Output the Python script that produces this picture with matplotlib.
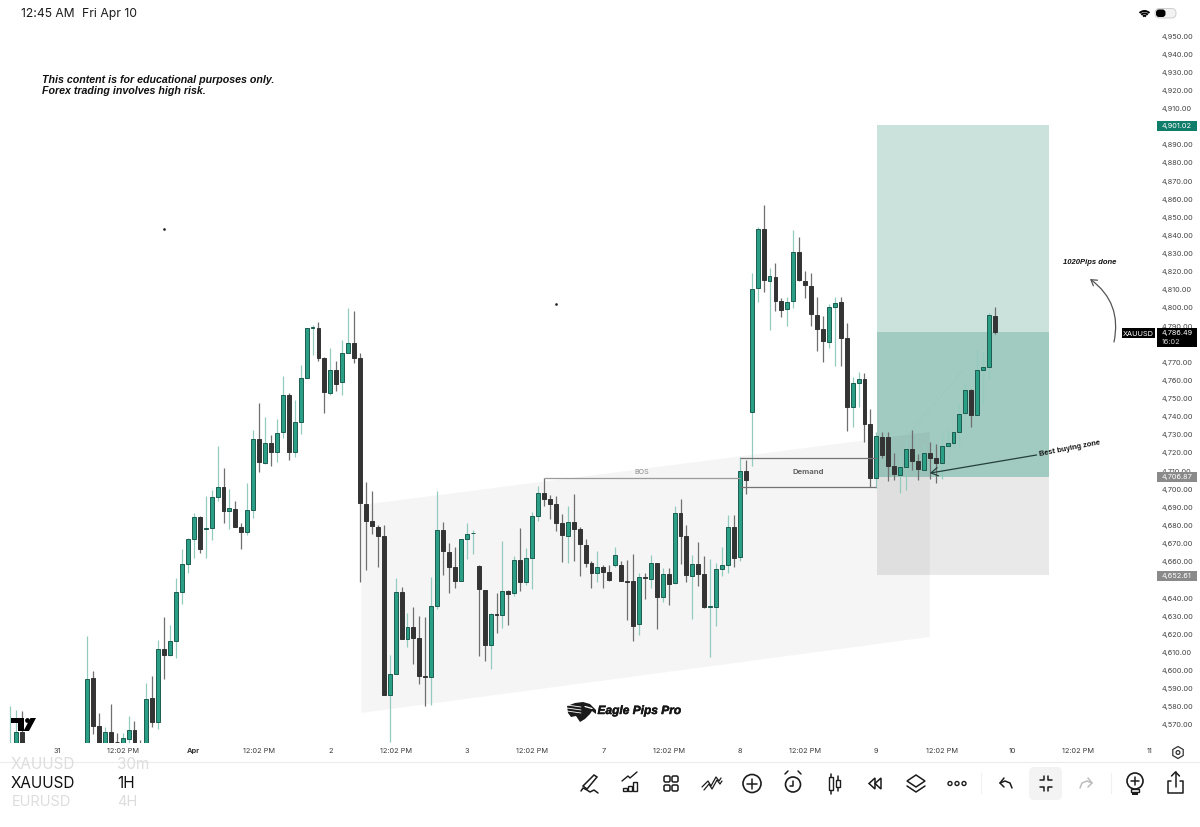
"""XAUUSD 1H candle chart, tablet screenshot style."""
import matplotlib

matplotlib.use("Agg")
import matplotlib.patheffects as pe
import matplotlib.pyplot as plt
import numpy as np
from matplotlib.patches import Arc, Circle, FancyArrowPatch, FancyBboxPatch, Polygon, Rectangle

# ─── candles ───────────────────────────────────────────────────────────────
early_index = [-13, -12, -11]
early_open = [4550.0, 4552.0, 4565.9]
early_high = [4580.4, 4578.2, 4577.9]
early_low = [4548.0, 4550.0, 4550.0]
early_close = [4556.0, 4565.9, 4552.0]

opens = [
    4555.0, 4595.7, 4569.4, 4556.0, 4566.1, 4560.8, 4558.0, 4562.2, 4567.2, 4558.0,
    4552.0, 4584.7, 4571.4, 4611.9, 4608.6, 4616.1, 4643.5, 4658.8, 4672.4, 4684.9,
    4678.3, 4678.4, 4695.9, 4701.1, 4688.2, 4689.1, 4679.0, 4676.6, 4688.4, 4727.5,
    4714.3, 4725.7, 4720.7, 4731.8, 4751.8, 4720.4, 4736.9, 4761.4, 4788.9, 4788.8,
    4772.2, 4753.3, 4765.8, 4759.3, 4775.3, 4780.9, 4772.4, 4692.0, 4682.3, 4679.4,
    4674.4, 4586.5, 4598.1, 4643.5, 4617.6, 4624.2, 4618.2, 4597.0, 4596.5, 4635.5,
    4677.6, 4665.6, 4657.1, 4649.6, 4672.8, 4675.7, 4657.7, 4644.6, 4613.9, 4631.2,
    4630.5, 4643.9, 4642.8, 4661.0, 4649.1, 4662.1, 4685.5, 4698.0, 4694.7, 4692.1,
    4681.6, 4674.4, 4682.0, 4677.9, 4669.5, 4659.2, 4653.7, 4657.3, 4654.2, 4658.4,
    4658.4, 4649.4, 4649.2, 4625.7, 4651.4, 4650.5, 4659.4, 4640.8, 4653.3, 4648.1,
    4687.1, 4674.4, 4652.2, 4659.0, 4653.5, 4634.9, 4635.3, 4656.2, 4658.4, 4679.0,
    4662.5, 4710.3, 4742.8, 4810.8, 4843.4, 4815.0, 4817.3, 4803.8, 4799.4, 4803.8,
    4831.0, 4814.9, 4812.3, 4796.1, 4788.2, 4781.4, 4800.5, 4803.1, 4783.2, 4745.5,
    4758.8, 4760.6, 4736.0, 4706.0, 4729.0, 4728.8, 4712.8, 4708.1, 4712.5, 4722.4,
    4715.4, 4710.8, 4720.0, 4717.3, 4714.7, 4723.9, 4725.7, 4731.6, 4741.9, 4755.0,
    4740.8, 4766.0, 4767.3, 4795.6,
]
highs = [
    4619.2, 4599.7, 4576.8, 4569.0, 4581.4, 4565.4, 4565.7, 4575.1, 4572.2, 4561.7,
    4592.9, 4597.2, 4616.9, 4629.7, 4625.1, 4651.2, 4666.9, 4672.9, 4686.7, 4685.2,
    4696.3, 4699.6, 4723.9, 4711.5, 4700.0, 4693.7, 4681.2, 4703.3, 4732.7, 4747.4,
    4740.0, 4729.9, 4738.6, 4762.5, 4752.9, 4749.2, 4768.5, 4788.8, 4790.6, 4792.2,
    4773.1, 4777.7, 4770.7, 4782.3, 4799.8, 4798.5, 4775.3, 4703.8, 4699.3, 4680.3,
    4680.3, 4608.6, 4650.9, 4645.9, 4631.6, 4634.9, 4630.3, 4629.8, 4651.4, 4699.3,
    4682.2, 4670.2, 4668.4, 4672.8, 4681.6, 4677.6, 4658.3, 4644.6, 4631.6, 4642.6,
    4671.7, 4644.5, 4663.2, 4678.5, 4667.4, 4687.7, 4702.0, 4706.4, 4696.9, 4696.3,
    4686.4, 4690.8, 4697.2, 4679.4, 4672.4, 4660.6, 4666.2, 4658.3, 4658.1, 4668.0,
    4660.6, 4661.0, 4664.1, 4653.7, 4654.0, 4663.8, 4659.5, 4656.4, 4656.4, 4690.8,
    4694.5, 4680.3, 4663.8, 4670.8, 4663.2, 4661.4, 4659.2, 4668.0, 4685.8, 4685.8,
    4718.0, 4716.2, 4819.1, 4844.8, 4856.8, 4822.2, 4824.6, 4805.3, 4806.2, 4843.0,
    4838.9, 4820.6, 4819.1, 4806.2, 4795.7, 4802.2, 4806.2, 4806.2, 4791.5, 4762.1,
    4764.9, 4764.0, 4744.1, 4731.4, 4731.8, 4731.8, 4719.8, 4718.9, 4728.6, 4732.7,
    4719.5, 4725.0, 4726.3, 4725.0, 4730.9, 4732.7, 4732.3, 4746.5, 4759.4, 4755.1,
    4776.8, 4775.9, 4797.0, 4800.7,
]
lows = [
    4550.0, 4565.0, 4552.0, 4554.0, 4552.0, 4559.0, 4556.0, 4559.8, 4554.0, 4555.0,
    4550.0, 4569.0, 4567.7, 4595.1, 4608.0, 4607.1, 4636.5, 4653.6, 4661.9, 4664.6,
    4661.9, 4672.0, 4693.7, 4681.2, 4677.9, 4679.0, 4666.9, 4674.8, 4684.0, 4709.7,
    4713.9, 4713.0, 4715.2, 4728.1, 4716.1, 4718.0, 4730.3, 4761.2, 4774.0, 4770.9,
    4741.9, 4751.8, 4754.2, 4751.8, 4775.0, 4769.8, 4649.0, 4655.5, 4675.4, 4657.0,
    4586.5, 4560.8, 4598.1, 4617.4, 4613.2, 4603.6, 4592.6, 4580.7, 4581.0, 4634.0,
    4652.7, 4643.0, 4645.4, 4649.6, 4661.6, 4664.3, 4608.2, 4605.3, 4600.7, 4620.6,
    4623.7, 4625.2, 4641.3, 4643.9, 4647.2, 4645.0, 4682.5, 4690.8, 4683.6, 4677.2,
    4659.7, 4659.5, 4660.5, 4652.4, 4657.3, 4645.7, 4648.7, 4645.4, 4649.6, 4657.0,
    4649.2, 4627.9, 4616.3, 4619.6, 4639.3, 4645.4, 4623.0, 4637.7, 4636.2, 4647.8,
    4658.8, 4649.1, 4628.5, 4646.8, 4634.3, 4607.3, 4624.8, 4652.4, 4653.7, 4657.3,
    4660.6, 4697.2, 4713.0, 4803.5, 4808.6, 4787.8, 4798.5, 4794.8, 4790.0, 4800.2,
    4815.0, 4805.3, 4790.2, 4776.4, 4770.4, 4778.1, 4768.0, 4768.2, 4732.1, 4734.1,
    4745.5, 4725.9, 4701.4, 4700.5, 4717.1, 4704.6, 4705.1, 4697.8, 4699.6, 4710.6,
    4705.1, 4710.3, 4705.7, 4703.3, 4705.7, 4722.9, 4723.5, 4723.5, 4739.1, 4734.2,
    4740.4, 4747.0, 4760.8, 4785.6,
]
closes = [
    4595.3, 4569.6, 4556.0, 4566.1, 4555.0, 4560.4, 4562.6, 4567.2, 4556.0, 4556.0,
    4584.3, 4571.4, 4611.9, 4608.6, 4616.1, 4643.5, 4658.8, 4672.4, 4684.9, 4666.9,
    4678.6, 4695.9, 4701.4, 4688.2, 4689.5, 4679.2, 4676.6, 4688.4, 4727.5, 4715.0,
    4725.7, 4720.7, 4731.2, 4752.0, 4720.4, 4737.3, 4761.4, 4788.8, 4789.3, 4772.2,
    4753.6, 4765.8, 4757.9, 4775.0, 4780.5, 4772.6, 4692.2, 4682.3, 4679.8, 4674.4,
    4586.5, 4598.1, 4643.5, 4617.4, 4624.2, 4618.2, 4597.2, 4596.5, 4635.8, 4677.6,
    4666.0, 4657.1, 4649.6, 4672.8, 4675.4, 4676.1, 4645.0, 4613.9, 4631.2, 4630.7,
    4643.9, 4642.4, 4661.0, 4649.1, 4661.9, 4685.3, 4698.0, 4694.8, 4692.1, 4681.6,
    4674.8, 4682.2, 4677.9, 4669.7, 4659.2, 4653.7, 4657.3, 4654.4, 4650.0, 4663.8,
    4649.6, 4648.9, 4624.8, 4651.6, 4650.9, 4659.2, 4640.8, 4653.3, 4647.8, 4687.1,
    4674.4, 4652.7, 4659.0, 4653.5, 4634.9, 4635.5, 4656.2, 4658.1, 4679.0, 4662.3,
    4709.9, 4705.1, 4810.5, 4843.4, 4815.2, 4817.4, 4803.8, 4799.0, 4803.5, 4831.0,
    4815.4, 4812.7, 4796.5, 4788.4, 4781.6, 4800.3, 4802.9, 4783.6, 4745.5, 4758.4,
    4760.8, 4736.2, 4706.0, 4729.4, 4718.9, 4713.0, 4708.4, 4712.1, 4722.4, 4715.6,
    4711.2, 4720.0, 4717.4, 4714.7, 4723.7, 4725.3, 4731.6, 4741.7, 4755.0, 4740.8,
    4766.0, 4767.4, 4795.9, 4786.5,
]

# ─── axis labels ───────────────────────────────────────────────────────────
date_ticks = [-5, 6, 18, 29, 41, 52, 64, 75, 87, 98, 110, 121, 133, 144, 156, 167, 179]
date_labels = ["31", "12:02 PM", "Apr", "12:02 PM", "2", "12:02 PM", "3", "12:02 PM", "7",
               "12:02 PM", "8", "12:02 PM", "9", "12:02 PM", "10", "12:02 PM", "11"]
price_ticks = list(range(4570, 4951, 10))
# these three sit fully behind the price tags on the screen
hidden_price_ticks = [4650, 4780, 4900]

# ─── drawings on the chart ─────────────────────────────────────────────────
target_price = 4901.02
entry_price = 4706.87
stop_price = 4652.61
last_price = 4786.49
position_span = [133.1, 162.1]
channel_x = [46.2, 142.0, 142.0, 46.2]
channel_y = [4691.3, 4731.6, 4618.5, 4576.6]
bos_price = 4706.2
bos_span = [77, 110]
demand_top = 4717.5
demand_bottom = 4701.0
demand_span = [110, 133]

GREEN = "#2a9f85"
GREEN_EDGE = "#1d5c50"
GREEN_WICK = "#93cbbf"
DARK = "#343434"
DARK_WICK = "#6f6f6f"
TEAL_BOX = "#1a7f6b"
UI_INK = "#1c1c1c"

plt.rcParams["font.family"] = ["Inter", "DejaVu Sans"]

fig = plt.figure(figsize=(12, 8.27), dpi=100, facecolor="white")

# ─── price chart ───────────────────────────────────────────────────────────
ax = fig.add_axes([0, 84 / 827, 1155 / 1200, 743 / 827])
ax.set_xlim(-14.66, 179.95)
ax.set_ylim(4560.03, 4969.86)
for spine in ax.spines.values():
    spine.set_visible(False)

# position boxes and channel sit under the candles
ax.fill_between(position_span, entry_price, target_price, color=TEAL_BOX, alpha=0.23, lw=0, zorder=1)
ax.fill_between(position_span, entry_price, last_price, color=TEAL_BOX, alpha=0.23, lw=0, zorder=1)
ax.fill_between(position_span, stop_price, entry_price, color="black", alpha=0.085, lw=0, zorder=1)
ax.fill(channel_x, channel_y, color="black", alpha=0.04, lw=0, zorder=1.5)

all_index = np.array(early_index + list(range(len(opens))))
all_open = np.array(early_open + opens)
all_high = np.array(early_high + highs)
all_low = np.array(early_low + lows)
all_close = np.array(early_close + closes)
is_up = all_close >= all_open

ax.vlines(all_index[is_up], all_low[is_up], all_high[is_up], color=GREEN_WICK, lw=0.9, zorder=2)
ax.vlines(all_index[~is_up], all_low[~is_up], all_high[~is_up], color=DARK_WICK, lw=0.9, zorder=2)
ax.bar(all_index[is_up], (all_close - all_open)[is_up], bottom=all_open[is_up], width=0.66,
       color=GREEN, edgecolor=GREEN_EDGE, linewidth=0.7, zorder=3)
ax.bar(all_index[~is_up], (all_close - all_open)[~is_up], bottom=all_open[~is_up], width=0.66,
       color=DARK, edgecolor=DARK, linewidth=0.7, zorder=3)

ax.hlines(bos_price, *bos_span, color="#9a9a9a", lw=0.9, zorder=4)
ax.text(np.mean(bos_span), bos_price + 1.5, "BOS", color="#8a8a8a", fontsize=5.2, ha="center", va="bottom")
ax.hlines([demand_top, demand_bottom], *demand_span, color="#747474", lw=0.9, zorder=4)
ax.text(np.mean(demand_span), (demand_top + demand_bottom) / 2, "Demand", color="#666666",
        fontsize=5.6, fontweight="bold", ha="center", va="center", zorder=4)
ax.plot([138.5, 148.2], [4731.0, 4768.0], color="#9cc6bc", lw=0.5, ls=(0, (2, 2)), zorder=1.8)
ax.annotate("", xy=(142.0, 4708.9), xytext=(160.0, 4718.9), zorder=5,
            arrowprops=dict(arrowstyle="->,head_length=0.5,head_width=0.3", color="#24403b", lw=0.9,
                            shrinkA=0, shrinkB=0))

ax.set_xticks(date_ticks)
ax.set_xticklabels(date_labels, fontsize=5.3, color="#3a3a3a")
ax.get_xticklabels()[2].set_fontweight("bold")
ax.yaxis.tick_right()
ax.set_yticks(price_ticks)
ax.set_yticklabels(["" if p in hidden_price_ticks else f"{p:,.2f}" for p in price_ticks],
                   fontsize=5.3, color="#444444")
ax.tick_params(axis="x", length=0, pad=3.5)
ax.tick_params(axis="y", length=0, pad=5)

# ─── screen overlay, in pixels ─────────────────────────────────────────────
ui = fig.add_axes([0, 0, 1, 1], zorder=5)
ui.set_xlim(0, 1200)
ui.set_ylim(827, 0)
ui.axis("off")
ui.patch.set_alpha(0)


def label_box(x0, x1, y0, y1, colour):
    ui.add_patch(Rectangle((x0, y0), x1 - x0, y1 - y0, fc=colour, ec="none"))


def stroke(xs, ys, colour=UI_INK, lw=1.1):
    ui.plot(xs, ys, color=colour, lw=lw, solid_capstyle="round", solid_joinstyle="round")


# status bar
ui.text(21, 14, "12:45 AM", fontsize=8.7, color=UI_INK, va="center")
ui.text(82, 14, "Fri Apr 10", fontsize=8.8, color=UI_INK, va="center")
for r in (7, 4.6, 2.2):
    ui.add_patch(Arc((1144.5, 18), 2 * r, 2 * r, theta1=225, theta2=315, color="black", lw=1.4))
ui.add_patch(FancyBboxPatch((1155, 8.5), 21, 9.5, boxstyle="round,pad=0,rounding_size=4.5", fc="#f2f2f2", ec="#cfcfcf", lw=0.7))
ui.add_patch(FancyBboxPatch((1156, 9.5), 9.5, 7.5, boxstyle="round,pad=0,rounding_size=3", fc="black", ec="none"))

# disclaimer and annotations
NOTE_FONT = ["Liberation Sans", "DejaVu Sans"]
ui.text(41.5, 80, "This content is for educational purposes only.", fontsize=7.7, family=NOTE_FONT,
        fontweight="bold", style="italic", color="#111111", va="center")
ui.text(41.5, 90.5, "Forex trading involves high risk.", fontsize=7.7, family=NOTE_FONT,
        fontweight="bold", style="italic", color="#111111", va="center")
ui.text(1063, 263, "1020Pips done", fontsize=5.5, family=NOTE_FONT, fontweight="bold", style="italic",
        color="#111111", va="center")
ui.text(1070, 449, "Best buying zone", fontsize=5.4, family=NOTE_FONT, fontweight="bold", color="#111111",
        ha="center", va="center", rotation=11, rotation_mode="anchor")
ui.add_patch(FancyArrowPatch((1114, 342), (1090, 279), connectionstyle="arc3,rad=0.32",
                             arrowstyle="->,head_length=4,head_width=2.5", color="#555555", lw=0.9,
                             shrinkA=0, shrinkB=0))
ui.plot([164, 556], [229, 304], ls="none", marker="o", ms=0.9, color="#222222")

# price tags
label_box(1157, 1197, 121, 131, "#0f7d69")
ui.text(1177, 126, "4,901.02", fontsize=5.3, color="white", ha="center", va="center")
label_box(1157, 1197, 472, 482, "#8a8a8a")
ui.text(1177, 477, "4,706.87", fontsize=5.3, color="white", ha="center", va="center")
label_box(1157, 1197, 571, 581, "#8a8a8a")
ui.text(1177, 576, "4,652.61", fontsize=5.3, color="white", ha="center", va="center")
label_box(1157, 1197, 328, 347, "black")
ui.text(1177, 333.5, "4,786.49", fontsize=5.3, color="white", ha="center", va="center")
ui.text(1162, 341.5, "16:02", fontsize=5.3, color="#cccccc", ha="left", va="center")
label_box(1122, 1155, 328, 338, "black")
ui.text(1138.5, 333.5, "XAUUSD", fontsize=5.3, color="white", ha="center", va="center")

# TradingView mark
ui.add_patch(Polygon([(10.5, 718), (24, 718), (24, 731), (18, 731), (18, 723), (10.5, 723)], fc="black", ec="none"))
ui.add_patch(Circle((27.5, 720.5), 2.4, fc="black", ec="none"))
ui.add_patch(Polygon([(30.5, 718), (36, 718), (29, 731), (23.5, 731)], fc="black", ec="none"))

# Eagle Pips Pro mark
ui.add_patch(Polygon([(567, 706), (575, 703), (583, 702), (590, 704), (596, 710), (596, 714), (592, 711),
                      (590, 714), (585, 719), (580, 722), (576, 716), (571, 717), (568, 713)],
                     fc="#1a1a1a", ec="none"))
for y0, y1 in [(705, 707), (708, 710), (711, 713)]:
    stroke([567, 581], [y0, y1], "white", 0.6)
stroke([585, 592], [706.5, 708.5], "white", 0.9)
ui.text(597.5, 711, "Eagle Pips Pro", fontsize=8.6, family=NOTE_FONT, fontweight="bold", style="italic",
        color="#151515", va="center", path_effects=[pe.withStroke(linewidth=0.35, foreground="#151515")])

# symbol picker, the faded row is cut off by the date axis border
picker_clip = Rectangle((0, 761.5), 1200, 66, transform=ui.transData)
for text_x, label in [(11, "XAUUSD"), (117, "30m")]:
    faded = ui.text(text_x, 764.5, label, fontsize=11, color="#dddddd", va="center")
    faded.set_clip_path(picker_clip)
ui.plot([0, 1200], [761.5, 761.5], color="#ececec", lw=0.8)
ui.text(11, 783.5, "XAUUSD", fontsize=11, color="#111111", va="center")
ui.text(117, 783.5, "1H", fontsize=11, color="#111111", va="center")
ui.text(12, 802, "EURUSD", fontsize=10.5, color="#dddddd", va="center")
ui.text(117, 802, "4H", fontsize=10.5, color="#dddddd", va="center")

# settings hexagon next to the date axis
hex_a = np.deg2rad(np.arange(30, 390, 60))
ui.add_patch(Polygon(np.c_[1178 + 6 * np.cos(hex_a), 752.5 + 6 * np.sin(hex_a)], fc="none", ec="#333333", lw=0.9))
ui.add_patch(Circle((1178, 752.5), 1.9, fc="none", ec="#333333", lw=0.9))

# toolbar
cy = 783.5
ui.add_patch(FancyBboxPatch((1029, 767), 33, 33, boxstyle="round,pad=0,rounding_size=5", fc="#f3f3f3", ec="none"))
for sep_x in (981, 1111):
    ui.plot([sep_x, sep_x], [773, 793], color="#f0f0f0", lw=0.8)

# pen
ui.add_patch(Polygon([(583, 786), (594, 775), (597, 777), (587, 789)], fc="white", ec=UI_INK, lw=1.1))
stroke([581, 583, 587, 590, 594, 598], [791, 788, 790, 792, 790, 793])
# chart with bars
for bar_x, bar_h in [(623, 3), (628, 5), (633, 9)]:
    ui.add_patch(Rectangle((bar_x, 791 - bar_h), 4, bar_h, fc="white", ec=UI_INK, lw=1))
stroke([622, 628, 630, 637], [781, 776, 778, 772], lw=1)
# grid
for gx, gy in [(664, 776), (672, 776), (664, 785), (672, 785)]:
    ui.add_patch(FancyBboxPatch((gx, gy), 6, 6, boxstyle="round,pad=0,rounding_size=1.5", fc="none", ec=UI_INK, lw=1.1))
# zigzag pattern
stroke([702, 708, 711, 716, 719, 721], [787, 781, 786, 777, 781, 778], lw=0.9)
stroke([704, 709, 712, 717, 720, 722], [790, 784, 789, 780, 784, 781], lw=0.9)
# add circle
ui.add_patch(Circle((752, cy), 9, fc="none", ec=UI_INK, lw=1.2))
stroke([747, 757], [cy, cy])
stroke([752, 752], [cy - 5, cy + 5])
# alarm clock
ui.add_patch(Circle((793, cy + 1), 7.5, fc="none", ec=UI_INK, lw=1.2))
stroke([793, 793, 790], [cy - 3, cy + 2, cy + 2])
stroke([785, 788], [774, 771])
stroke([798, 801], [771, 774])
# candle icon
stroke([831, 831], [774, 794])
ui.add_patch(Rectangle((829, 777), 4, 13, fc="white", ec=UI_INK, lw=1, zorder=3))
stroke([838, 838], [776, 791])
ui.add_patch(Rectangle((836, 780), 4, 7, fc="white", ec=UI_INK, lw=1, zorder=3))
# rewind
ui.add_patch(Polygon([(869, cy), (875, 778), (875, 789)], fc="none", ec=UI_INK, lw=1.1))
ui.add_patch(Polygon([(875, cy), (881, 778), (881, 789)], fc="none", ec=UI_INK, lw=1.1))
# layers
ui.add_patch(Polygon([(907, 781), (916, 775), (925, 781), (916, 787)], fc="none", ec=UI_INK, lw=1.1))
stroke([907, 916, 925], [786, 792, 786])
# more
for dot_x in (950, 957, 964):
    ui.add_patch(Circle((dot_x, cy), 2, fc="none", ec=UI_INK, lw=1))
# undo / redo
stroke([1000, 1005, 1010, 1012], [783, 781, 783, 788])
stroke([1004, 1000, 1004], [778, 783, 787])
stroke([1092, 1087, 1082, 1080], [783, 781, 783, 788], "#bdbdbd")
stroke([1088, 1092, 1088], [778, 783, 787], "#bdbdbd")
# collapse
stroke([1040, 1044, 1044], [780, 780, 776])
stroke([1052, 1048, 1048], [780, 780, 776])
stroke([1040, 1044, 1044], [787, 787, 791])
stroke([1052, 1048, 1048], [787, 787, 791])
# idea bulb
ui.add_patch(Circle((1135, 781), 8, fc="none", ec=UI_INK, lw=1.2))
stroke([1131, 1139], [781, 781])
stroke([1135, 1135], [777, 785])
ui.add_patch(Rectangle((1131, 789), 8, 3, fc="none", ec=UI_INK, lw=1))
ui.add_patch(Rectangle((1132, 792), 6, 2.5, fc=UI_INK, ec="none"))
# share
stroke([1171, 1168, 1168, 1183, 1183, 1180], [781, 781, 793, 793, 781, 781])
stroke([1175.5, 1175.5], [772, 787])
stroke([1171.5, 1175.5, 1179.5], [776, 772, 776])

fig.savefig("out.png", dpi=100, facecolor="white")
